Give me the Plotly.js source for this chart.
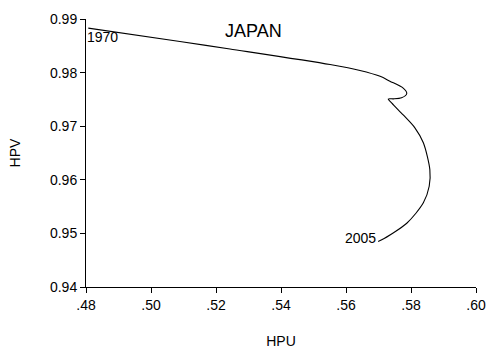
<!DOCTYPE html>
<html>
<head>
<meta charset="utf-8">
<script src="https://cdn.plot.ly/plotly-3.0.1.min.js"></script>
<style>
  html, body { margin: 0; padding: 0; background: #fff; }
  #chart { width: 488px; height: 352px; }
</style>
</head>
<body>
<div id="chart"></div>
<script>
// HP-filtered trend path of HPU (x) against HPV (y), Japan 1970-2005
const hpu = [0.4807, 0.5089, 0.5243, 0.5551, 0.5643, 0.5705, 0.5735, 0.5776,
             0.5787, 0.5771, 0.5746, 0.5730, 0.5741, 0.5776, 0.5812, 0.5838,
             0.5858, 0.5856, 0.5838, 0.5787, 0.5710, 0.5699];
const hpv = [0.9883, 0.9858, 0.9844, 0.9815, 0.9804, 0.9793, 0.9784, 0.9771,
             0.9761, 0.9753, 0.9751, 0.9751, 0.9743, 0.9721, 0.9697, 0.9669,
             0.9619, 0.9588, 0.9557, 0.9519, 0.9488, 0.9485];
const startYear = "1970";
const endYear = "2005";

const xTickVals = [0.48, 0.50, 0.52, 0.54, 0.56, 0.58, 0.60];
const xTickText = [".48", ".50", ".52", ".54", ".56", ".58", ".60"];
const yTickVals = [0.94, 0.95, 0.96, 0.97, 0.98, 0.99];
const yTickText = ["0.94", "0.95", "0.96", "0.97", "0.98", "0.99"];

const family = "Liberation Sans, Arial, sans-serif";
const font = { family: family, size: 14, color: "#000" };

const trace = {
  x: hpu, y: hpv,
  type: "scatter", mode: "lines",
  line: { color: "#000", width: 1.1, shape: "spline", smoothing: 0.8 },
  hoverinfo: "skip"
};

const last = hpu.length - 1;
const layout = {
  width: 488, height: 352,
  margin: { l: 86, r: 12, t: 19, b: 65 },
  paper_bgcolor: "#fff", plot_bgcolor: "#fff",
  showlegend: false,
  font: font,
  xaxis: {
    range: [0.48, 0.60],
    tickvals: xTickVals, ticktext: xTickText,
    ticks: "outside", ticklen: 5, tickwidth: 1, tickcolor: "#000",
    showline: true, linecolor: "#000", linewidth: 1,
    showgrid: false, zeroline: false,
    tickfont: font,
    title: { text: "HPU", font: font, standoff: 24 }
  },
  yaxis: {
    range: [0.94, 0.99],
    tickvals: yTickVals, ticktext: yTickText,
    ticks: "outside", ticklen: 5, tickwidth: 1, tickcolor: "#000",
    showline: true, linecolor: "#000", linewidth: 1,
    showgrid: false, zeroline: false,
    tickfont: font,
    title: { text: "HPV", font: font, standoff: 26 }
  },
  annotations: [
    { x: 0.43, y: 0.99, xref: "paper", yref: "y", text: "JAPAN",
      showarrow: false, font: { family: family, size: 18, color: "#000" },
      xanchor: "center", yanchor: "top", yshift: 0 },
    { x: hpu[0], y: hpv[0], xref: "x", yref: "y", text: startYear,
      showarrow: false, font: font, xanchor: "left", yanchor: "top", xshift: -3, yshift: 1 },
    { x: hpu[last], y: hpv[last], xref: "x", yref: "y", text: endYear,
      showarrow: false, font: font, xanchor: "right", yanchor: "middle", xshift: 0, yshift: 3 }
  ]
};

Plotly.newPlot("chart", [trace], layout, { staticPlot: true, displayModeBar: false });
</script>
</body>
</html>
